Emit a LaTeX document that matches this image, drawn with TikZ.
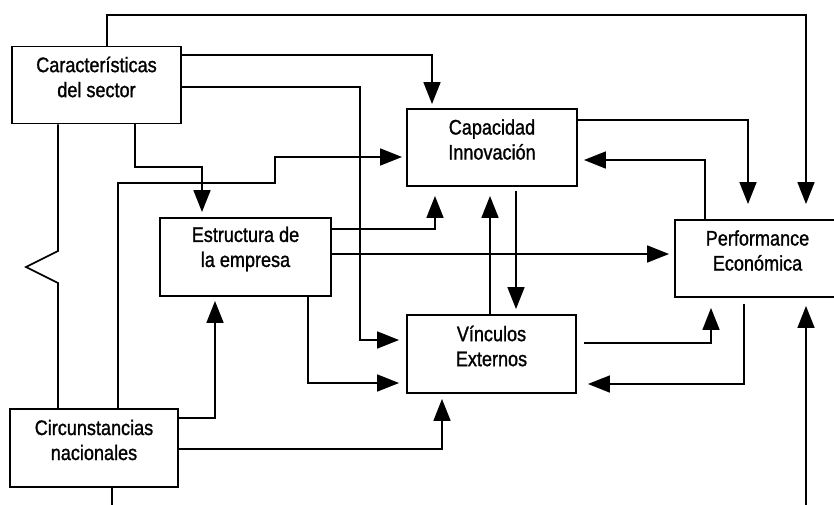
\documentclass[tikz,border=0pt]{standalone}
\usepackage{fontspec}
\newfontfamily\boxfont{Liberation Sans}[FakeStretch=0.86, FakeBold=1.2]
\usetikzlibrary{positioning, arrows.meta, calc}

\begin{document}
\begin{tikzpicture}[x=1pt, y=-1pt,
  box/.style={draw, line width=1.9pt, inner sep=0pt, minimum height=77pt},
  txt/.style={font=\boxfont\fontsize{21pt}{25pt}\selectfont, align=center, inner sep=0pt},
  arr/.style={-{Triangle[length=22pt, width=17pt]}, line width=1.7pt, shorten >=5pt},
  link/.style={line width=1.7pt},
]
\useasboundingbox (0,0) rectangle (834,504);
\clip (0,0) rectangle (834,504);

% ---------- Boxes ----------
\node[box, minimum width=169pt, label={[txt, yshift=8pt]center:Características\\del sector}] (sector) at (96.5,85) {};
\node[box, minimum width=171pt, minimum height=78pt, label={[txt, yshift=8pt]center:Estructura de\\la empresa}] (firm) at (245.5,257) {};
\node[box, minimum width=170pt, label={[txt, yshift=8pt]center:Capacidad\\Innovación}] (innov) at (492,147.5) {};
\node[box, minimum width=169pt, minimum height=78pt, label={[txt, yshift=8pt]center:Vínculos\\Externos}] (links) at (491.5,354) {};
\node[box, minimum width=165pt, label={[txt, yshift=8pt]center:Performance\\Económica}] (perf) at (757.5,258.5) {};
\node[box, minimum width=168pt, minimum height=78pt, label={[txt, yshift=8pt]center:Circunstancias\\nacionales}] (nat) at (94,448) {};

% ---------- From the sector ----------
\draw[arr, shorten >=15pt] (107,0 |- sector.north) |- (806,15) -- (806,0 |- perf.north);
\draw[arr, shorten >=4pt] (sector.east |- 0,55) -| (432,0 |- innov.north);
\draw[arr, shorten >=7pt] (sector.east |- 0,87) -| (360,340) -- (links.west |- 0,340);
\draw[arr] (135,0 |- sector.south) |- (202,167) -- (202,0 |- firm.north);
\draw[link] (58,0 |- sector.south) -- (58,251) -- (26,267) -- (58,283) -- (58,0 |- nat.north);

% ---------- From national circumstances ----------
\draw[arr, shorten >=4pt] (118,0 |- nat.north) |- (275,183) |- (innov.west |- 0,157);
\draw[arr, shorten >=4pt] (nat.east |- 0,418) -| (215,0 |- firm.south);
\draw[arr] (nat.east |- 0,449) -| (442,0 |- links.south);
\draw[arr, shorten >=8pt] (112,0 |- nat.south) -- (112,530) -| (806,0 |- perf.south);

% ---------- From the firm ----------
\draw[arr, shorten >=9pt] (firm.east |- 0,229) -| (435,0 |- innov.south);
\draw[arr] (firm.east |- 0,254) -- (perf.west |- 0,254);
\draw[arr, shorten >=7pt] (308,0 |- firm.south) |- (links.west |- 0,383);

% ---------- Innovation, links and performance ----------
\draw[arr, shorten <=4pt] (516,0 |- innov.south) -- (516,0 |- links.north);
\draw[arr, shorten >=9pt] (490,0 |- links.north) -- (490,0 |- innov.south);
\draw[arr, shorten >=15pt] (innov.east |- 0,120) -| (748,0 |- perf.north);
\draw[arr, shorten >=6pt] (705,0 |- perf.north) |- (innov.east |- 0,160);
\draw[arr, shorten <=7pt, shorten >=10pt] (links.east |- 0,343) -| (711,0 |- perf.south);
\draw[arr, shorten <=6pt, shorten >=11pt] (744,0 |- perf.south) |- (links.east |- 0,384);

\end{tikzpicture}
\end{document}
